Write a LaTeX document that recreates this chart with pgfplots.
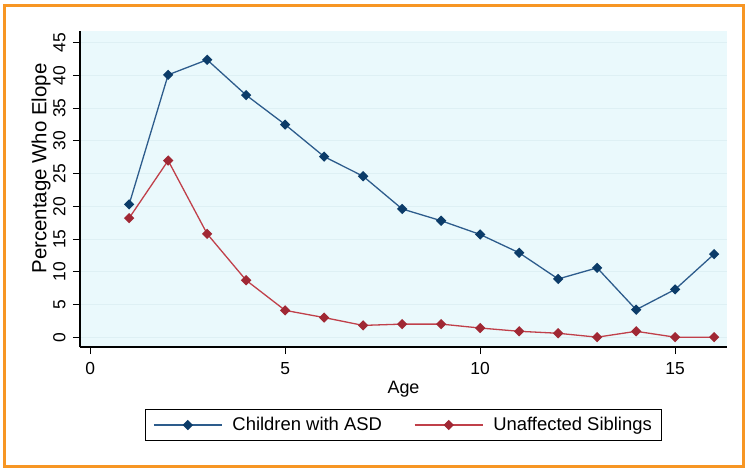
\documentclass[border=0pt]{standalone}
\usepackage{pgfplots}
\pgfplotsset{compat=1.18}
\usepackage{fontspec}
\setmainfont{Liberation Sans}
\definecolor{asdline}{RGB}{45,92,140}
\definecolor{asdmark}{RGB}{12,60,105}
\definecolor{sibline}{RGB}{192,64,74}
\definecolor{sibmark}{RGB}{160,40,52}
\definecolor{bgcol}{RGB}{234,249,252}
\definecolor{gridcol}{RGB}{222,240,244}
\definecolor{framecol}{RGB}{247,150,35}
\begin{document}
\begin{tikzpicture}
\useasboundingbox (-80bp,-126bp) rectangle (670bp,347bp);
\fill[white] (-80bp,-126bp) rectangle (670bp,347bp);
\draw[framecol,line width=3bp] (-75bp,-119bp) rectangle (663bp,341bp);
\begin{axis}[
  at={(0bp,0bp)}, anchor=south west,
  scale only axis, width=647bp, height=316bp,
  xmin=-0.26, xmax=16.33, ymin=-1.5, ymax=46.8,
  axis x line=bottom, axis y line=left,
  axis line style={-, black, line width=1.2bp},
  axis background/.style={fill=bgcol},
  xtick={0,5,10,15}, ytick={0,5,...,45},
  tick align=outside, major tick length=7bp,
  tick style={black, line width=1bp},
  ymajorgrids, grid style={gridcol, line width=1bp},
  /pgf/number format/assume math mode=true,
  tick label style={font=\fontsize{17.5}{20}\selectfont},
  yticklabel style={rotate=90, anchor=south, yshift=4bp},
  xticklabel style={yshift=-5bp},
  xlabel={Age}, ylabel={Percentage Who Elope},
  every axis x label/.style={at={([yshift=-42bp]axis description cs:0.5,0)}, anchor=center, font=\fontsize{18}{20}\selectfont},
  every axis y label/.style={at={([xshift=-39bp]axis description cs:0,0.565)}, rotate=90, anchor=center, font=\fontsize{20.5}{22}\selectfont},
  legend columns=2,
  legend style={at={([yshift=-62bp]axis description cs:0.5,0)}, anchor=north,
    draw=black, line width=1.2bp, fill=white,
    font=\fontsize{18.5}{21}\selectfont,
    inner xsep=8bp, inner ysep=6bp,
    /tikz/every odd column/.append style={column sep=8bp},
    /tikz/every even column/.append style={column sep=30bp}},
  legend image code/.code={\draw[mark repeat=2, mark phase=2] plot coordinates {(0bp,0bp) (34bp,0bp) (68bp,0bp)};},
]
\addplot[asdline, line width=1.3bp, mark=square*, mark size=3bp,
  mark options={rotate=45, fill=asdmark, draw=asdmark}]
  coordinates {(1,20.3) (2,40.1) (3,42.4) (4,37.0) (5,32.5) (6,27.6) (7,24.6) (8,19.6)
               (9,17.8) (10,15.7) (11,12.9) (12,8.9) (13,10.6) (14,4.2) (15,7.3) (16,12.7)};
\addlegendentry{Children with ASD}
\addplot[sibline, line width=1.3bp, mark=square*, mark size=3bp,
  mark options={rotate=45, fill=sibmark, draw=sibmark}]
  coordinates {(1,18.2) (2,27.0) (3,15.8) (4,8.7) (5,4.1) (6,3.0) (7,1.8) (8,2.0)
               (9,2.0) (10,1.4) (11,0.9) (12,0.6) (13,0.0) (14,0.9) (15,0.0) (16,0.0)};
\addlegendentry{Unaffected Siblings}
\end{axis}
\end{tikzpicture}
\end{document}
